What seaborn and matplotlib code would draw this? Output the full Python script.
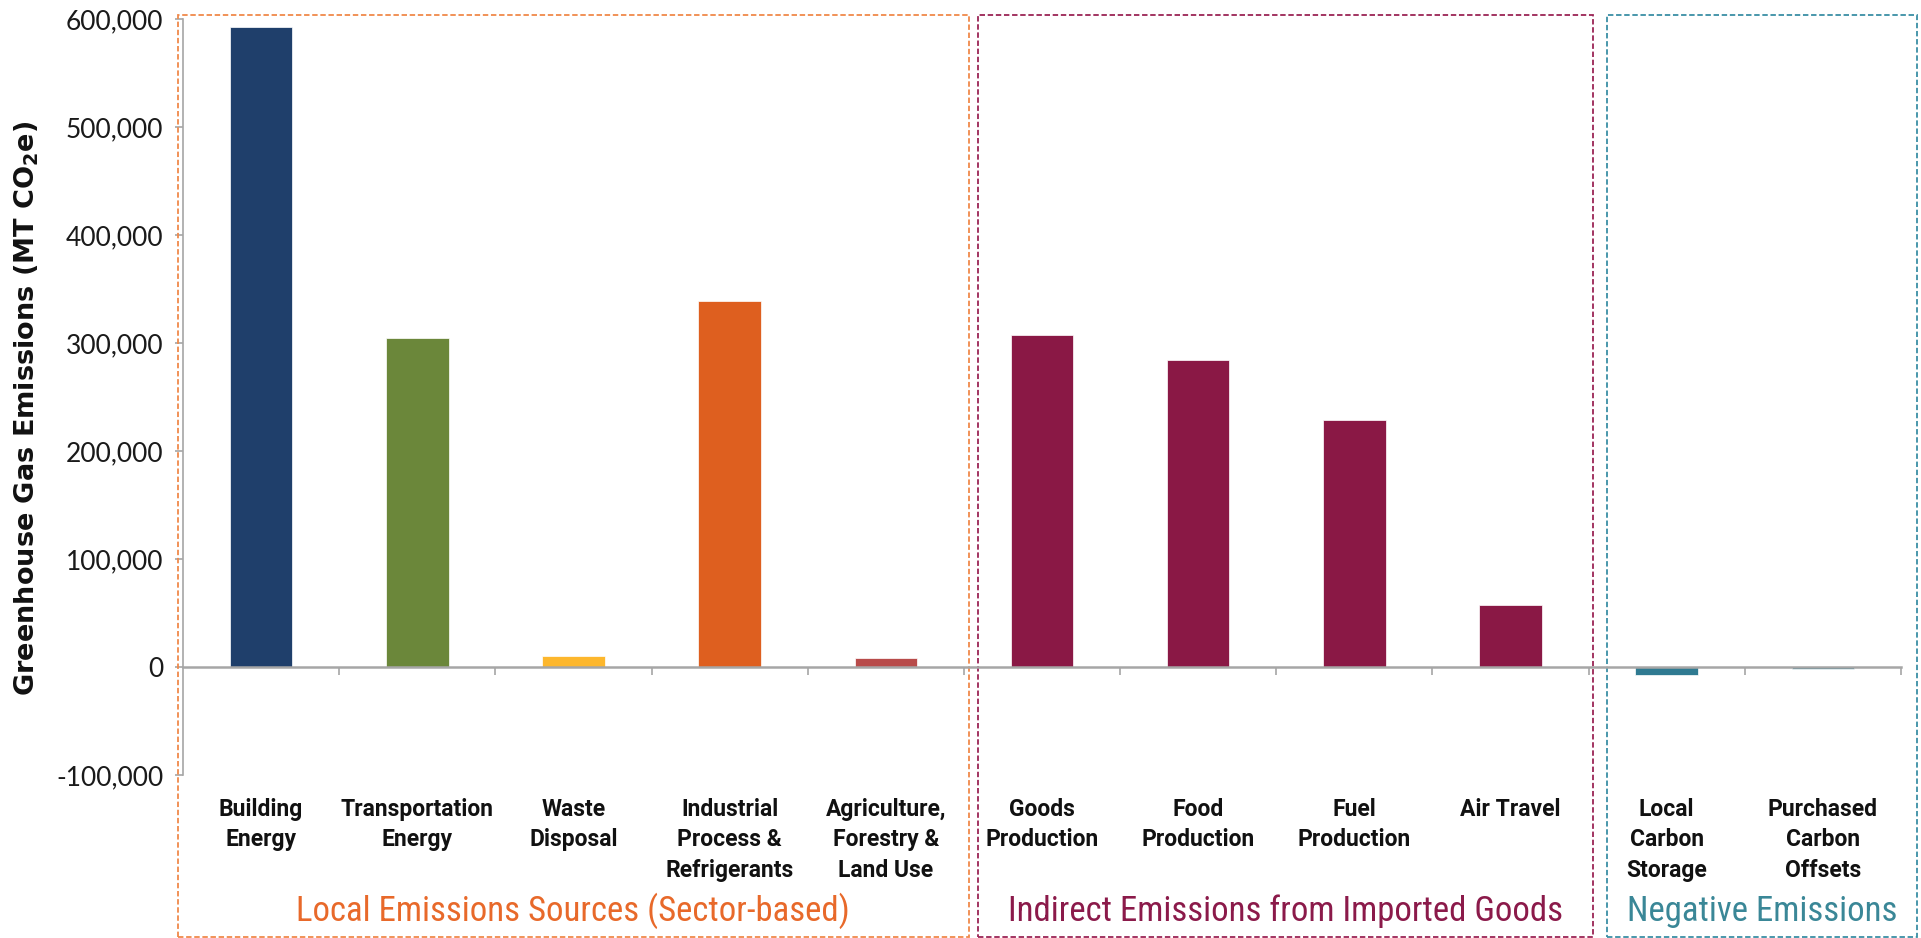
import matplotlib
matplotlib.use("Agg")
import matplotlib.pyplot as plt
import matplotlib.ticker as mticker
from matplotlib.patches import Rectangle
from matplotlib.transforms import blended_transform_factory
import seaborn as sns
import pandas as pd

# Emission categories and values (MT CO2e)
categories = [
    "Building\nEnergy", "Transportation\nEnergy", "Waste\nDisposal",
    "Industrial\nProcess &\nRefrigerants", "Agriculture,\nForestry &\nLand Use",
    "Goods\nProduction", "Food\nProduction", "Fuel\nProduction", "Air Travel",
    "Local\nCarbon\nStorage", "Purchased\nCarbon\nOffsets",
]
emissions = [593000, 305000, 10500, 339000, 8500, 307000, 284000, 228500, 57000, -7000, -2000]
bar_colors = ["#1F3F6B", "#6B873A", "#FDB72D", "#DE5F1F", "#B84B4A",
              "#8A1845", "#8A1845", "#8A1845", "#8A1845", "#2F7A91", "#2F7A91"]

# Category groups: title, x extent of the dashed box, colours
group_titles = ["Local Emissions Sources (Sector-based)",
                "Indirect Emissions from Imported Goods",
                "Negative Emissions"]
group_spans = [(-0.535, 4.532), (4.59, 8.527), (8.617, 10.60)]
group_colors = ["#E8692A", "#8B1A4A", "#3A8797"]
box_colors = ["#F0894A", "#9B2455", "#3A8FA5"]

y_ticks = [-100000, 0, 100000, 200000, 300000, 400000, 500000, 600000]

sns.set_style("white")
plt.rcParams["axes.unicode_minus"] = False
plt.rcParams["mathtext.fontset"] = "dejavusans"

title_font = ["Roboto Condensed", "Roboto", "DejaVu Sans"]
label_font = ["Roboto", "DejaVu Sans"]

df = pd.DataFrame({"category": categories, "value": emissions})

fig = plt.figure(figsize=(19.21, 9.38), dpi=100)
ax = fig.add_axes([183 / 1921, 1 - 775 / 938, (1901 - 183) / 1921, (775 - 19) / 938])

sns.barplot(data=df, x="category", y="value", hue="category", palette=bar_colors,
            width=0.4, dodge=False, legend=False, ax=ax, saturation=1,
            edgecolor="white", linewidth=0.5)

ax.set_xlim(-0.5, len(categories) - 0.5)
ax.set_ylim(-100000, 600000)
ax.set_yticks(y_ticks)
ax.yaxis.set_major_formatter(mticker.StrMethodFormatter("{x:,.0f}"))

spine_color = "#A6A6A6"
for side in ["top", "right"]:
    ax.spines[side].set_visible(False)
ax.spines["left"].set_color(spine_color)
ax.spines["left"].set_linewidth(1.2)
ax.spines["bottom"].set_position(("data", 0))
ax.spines["bottom"].set_color(spine_color)
ax.spines["bottom"].set_linewidth(1.8)

ax.tick_params(axis="y", direction="out", length=6, width=1.2, color=spine_color,
               pad=8, labelsize=19, labelcolor="#1A1A1A", left=True)
for lab in ax.get_yticklabels():
    lab.set_fontfamily(["Lato", "DejaVu Sans"])

# Category boundary ticks below the zero line
ax.set_xticks([i + 0.5 for i in range(len(categories))], minor=True)
ax.tick_params(axis="x", which="minor", direction="out", length=6, width=1.2,
               color=spine_color, bottom=True)
ax.tick_params(axis="x", which="major", length=0, pad=94, labelsize=16.5,
               labelcolor="#111111")
ax.set_xticks(range(len(categories)))
ax.set_xticklabels(categories, fontfamily=label_font, fontweight="bold",
                   linespacing=1.44, va="top")
ax.set_xlabel("")

ax.set_ylabel(r"Greenhouse Gas Emissions (MT CO$_\mathbf{2}$e)", fontsize=19.5,
              fontweight="bold", fontfamily="DejaVu Sans", color="#111111")
ax.yaxis.set_label_coords(-0.0825, 0.485)

# Dashed group boxes and their titles
trans = blended_transform_factory(ax.transData, fig.transFigure)
box_top = 1 - 14.7 / 938
box_bottom = 0.001
for title, (x0, x1), tcol, bcol in zip(group_titles, group_spans, group_colors, box_colors):
    rect = Rectangle((x0, box_bottom), x1 - x0, box_top - box_bottom, transform=trans,
                     fill=False, edgecolor=bcol, linewidth=1.3,
                     linestyle=(0, (3, 1.5)), clip_on=False)
    ax.add_patch(rect)
    ax.text((x0 + x1) / 2, 1 - 911 / 938, title, transform=trans, ha="center",
            va="center", fontsize=25, color=tcol, fontfamily=title_font)

fig.savefig("out.png", dpi=100, facecolor="white")
